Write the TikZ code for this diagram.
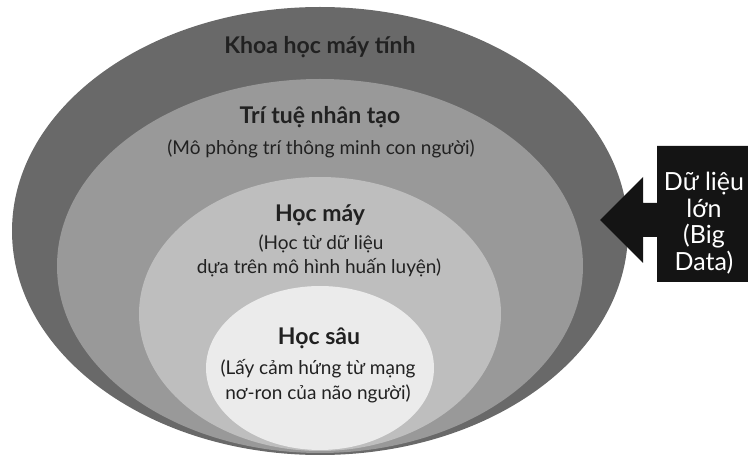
\documentclass[tikz,border=0pt]{standalone}
\usepackage{fontspec}
\setmainfont{Lato}
\usepackage{xcolor}
\usetikzlibrary{positioning}
\definecolor{lopkhmt}{gray}{0.41}
\definecolor{lopttnt}{gray}{0.60}
\definecolor{lophocmay}{gray}{0.745}
\definecolor{lophocsau}{gray}{0.92}
\definecolor{hopden}{gray}{0.08}
\definecolor{chu}{gray}{0.13}
\tikzset{
  tieude/.style={anchor=base,text=chu,font=\fontsize{23}{27}\selectfont\bfseries,inner sep=0pt},
  mota/.style={anchor=base,text=chu,font=\fontsize{19}{23}\selectfont,inner sep=0pt}
}
\begin{document}
\begin{tikzpicture}[x=1pt,y=-1pt]
\useasboundingbox (0,0) rectangle (748,457);
% cac vong long nhau
\fill[lopkhmt](320,231) ellipse [x radius=308,y radius=224];
\fill[lopttnt](320,266) ellipse [x radius=263,y radius=187];
\fill[lophocmay](320,314) ellipse [x radius=181,y radius=137];
\fill[lophocsau](320,368) ellipse [x radius=114,y radius=82];
% chu
\node[tieude](khmt) at (320,54) {Khoa học máy tính};
\node[tieude](ttnt) at (320,124) {Trí tuệ nhân tạo};
\node[mota](ttntmota) at (321,155) {(Mô phỏng trí thông minh con người)};
\node[tieude](hocmay) at (320,222) {Học máy};
\node[mota](hocmay1) at (321,250) {(Học từ dữ liệu};
\node[mota](hocmay2) at (319,274) {dựa trên mô hình huấn luyện)};
\node[tieude](hocsau) at (319,345) {Học sâu};
\node[mota](hocsau1) at (318,375) {(Lấy cảm hứng từ mạng};
\node[mota](hocsau2) at (318,400) {nơ-ron của não người)};
% hop du lieu lon va mui ten
\fill[hopden](657,146) rectangle (748,282)
(600,220)--(643,177)--(643,203)--(657,203)--(657,237)--(643,237)--(643,263)--cycle;
\node[text=white,align=center,font=\fontsize{25}{26.7}\selectfont,inner sep=0pt](dulieu) at (704,223) {Dữ liệu\\lớn\\(Big\\Data)};
\end{tikzpicture}
\end{document}
